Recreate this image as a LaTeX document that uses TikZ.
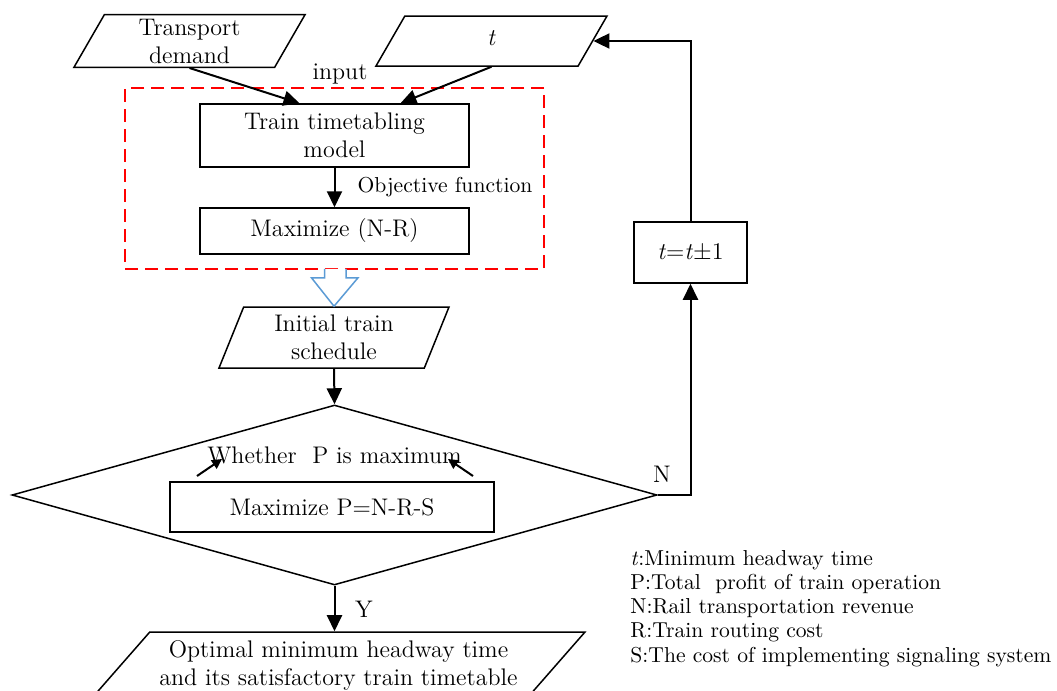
\documentclass[tikz,border=0pt]{standalone}
\usepackage{tikz}
\usetikzlibrary{shapes,arrows,positioning,calc,arrows.meta}
\definecolor{hollowblue}{RGB}{91,155,213}

\begin{document}
\begin{tikzpicture}[x=0.5pt, y=-0.5pt,
    font=\fontsize{12}{14}\selectfont,
    procbox/.style={draw, line width=0.75pt, rectangle, align=center, inner sep=2pt},
    iobox/.style={draw, line width=0.75pt, trapezium, trapezium stretches body=true, align=center, inner sep=2pt},
    flow/.style={-{Triangle[length=8pt,width=7.5pt]}, line width=1pt},
    tiny/.style={-{Triangle[length=5pt,width=5pt]}, line width=1pt}]
    \useasboundingbox (0,0) rectangle (1057,691);

    % Inputs
    \node[iobox, trapezium left angle=60, trapezium right angle=120, minimum width=115.5pt, minimum height=25pt] (demand) at (189.5,41) {Transport\\demand};
    \node[iobox, trapezium left angle=60, trapezium right angle=120, minimum width=115.5pt, minimum height=25pt, text height=12.5pt, text depth=8.5pt] (tin) at (491.5,41) {\textit{t}};
    \node (inlbl) at (340,74) {input};

    % Model frame
    \node[draw=red, dash pattern=on 6.5pt off 3.5pt, line width=0.8pt, minimum width=209.5pt, minimum height=90.5pt] (frame) at (334.5,178.5) {};
    \node[procbox, minimum width=134.5pt, minimum height=31.5pt] (model) at (334.5,135.5) {Train timetabling\\model};
    \node[procbox, minimum width=134.5pt, minimum height=23pt] (maxnr) at (334.5,231) {Maximize (N-R)};
    \node[font=\fontsize{10.8}{12}\selectfont] (objlbl) at (445,187) {Objective function};

    \draw[flow] (demand.south) -- ($(model.north)+(-35,0)$);
    \draw[flow] (tin.south) -- ($(model.north)+(66,0)$);
    \draw[flow] (model.south) -- (maxnr.north);

    % Initial schedule
    \node[iobox, trapezium left angle=65, trapezium right angle=115, minimum width=115pt, minimum height=30.5pt] (init) at (334,337.5) {Initial train\\schedule};
    \draw[draw=hollowblue, fill=white, line width=0.75pt] ($(frame.south)+(-10,-1)$) -- ++(0,9) -- ++(-13,0) -- (init.north) -- ($(frame.south)+(23.5,8)$) -- ++(-12,0) -- ++(0,-9);

    % Decision
    \node[draw, diamond, line width=0.75pt, minimum width=322.5pt, minimum height=90pt, inner sep=0pt] (dia) at (334.5,495) {};
    \node (whether) at (334.5,455) {Whether~ P is maximum};
    \node[procbox, minimum width=162pt, minimum height=25pt] (pbox) at (332,507) {Maximize P=N-R-S};
    \coordinate (la) at (197,476);
    \coordinate (lb) at (222,459);
    \coordinate (ra) at (473,476);
    \coordinate (rb) at (448,459);
    \draw[tiny] (la) -- (lb);
    \draw[tiny] (ra) -- (rb);
    \draw[flow] (init.south) -- (dia.north);

    % Update loop
    \node[procbox, minimum width=56.5pt, minimum height=30.5pt] (upd) at (690.5,252.5) {\textit{t}=\textit{t}$\pm$1};
    \draw[flow] (dia.east) -| (upd.south);
    \draw[flow] (upd.north) |- (tin.east);
    \node (nlbl) at (662,474) {N};

    % Output
    \node[iobox, trapezium left angle=45, trapezium right angle=135, minimum width=246.5pt, minimum height=33pt] (out) at (338.5,665) {Optimal minimum headway time\\and its satisfactory train timetable};
    \draw[flow] (dia.south) -- (dia.south |- out.north);
    \node (ylbl) at (364,609) {Y};

    % Legend
    \node[anchor=north west, inner sep=0pt, align=left, font=\fontsize{10.8}{12.1}\selectfont] (legend) at (630,550) {\textit{t}:Minimum headway time\\P:Total~ profit of train operation\\N:Rail transportation revenue\\R:Train routing cost\\S:The cost of implementing signaling system};
\end{tikzpicture}
\end{document}
